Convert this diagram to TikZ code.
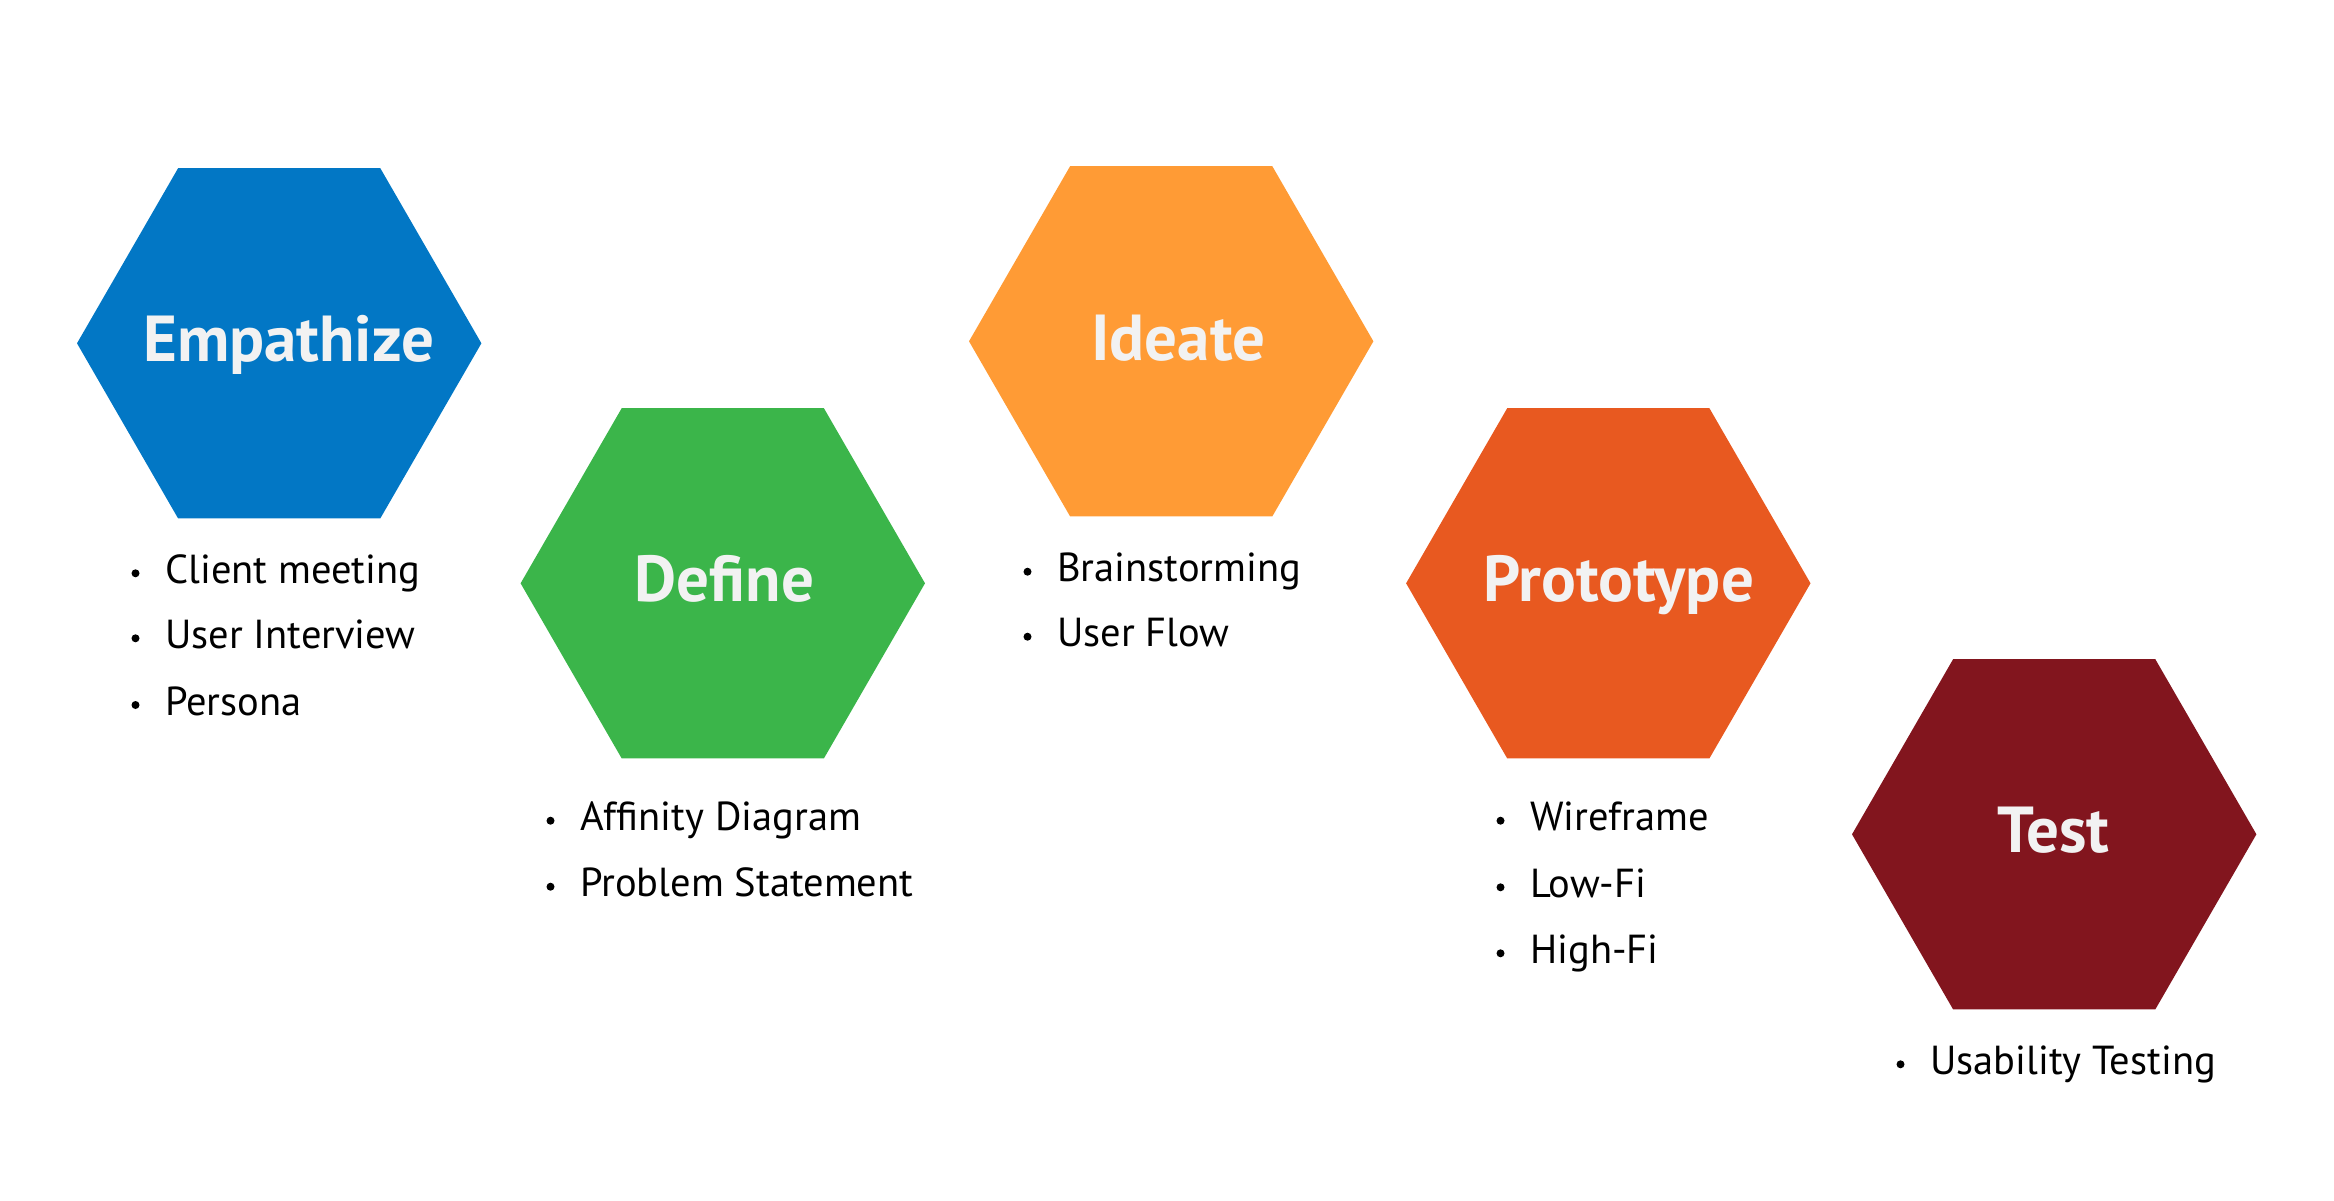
\documentclass[tikz,border=0pt]{standalone}
\usepackage{fontspec}
\setmainfont{PT Sans}
\usetikzlibrary{shapes.geometric,calc}

\definecolor{empblue}{RGB}{2,119,197}
\definecolor{defgreen}{RGB}{59,181,74}
\definecolor{ideorange}{RGB}{255,155,53}
\definecolor{prored}{RGB}{232,89,32}
\definecolor{tesmaroon}{RGB}{130,21,30}
\definecolor{titlegray}{RGB}{242,242,242}

\begin{document}
\begin{tikzpicture}[x=1pt,y=-1pt,
  hexa/.style={regular polygon, regular polygon sides=6, minimum size=404.4pt,
    inner sep=0pt, outer sep=0pt, draw=none},
  title/.style={anchor=base, inner sep=0pt, text=titlegray,
    font=\fontsize{65}{72}\selectfont\bfseries},
  item/.style={anchor=base west, inner sep=0pt, text=black,
    font=\fontsize{40.5}{48}\selectfont},
  dot/.style={fill=black}
]
\useasboundingbox (0,0) rectangle (2334,1200);

% stage hexagons
\node[hexa, fill=empblue]   (emp) at (279.2,343.3) {};
\node[hexa, fill=defgreen]  (def) at (722.8,583.3) {};
\node[hexa, fill=ideorange] (ide) at (1171.2,341.3) {};
\node[hexa, fill=prored]    (pro) at (1608.3,583.3) {};
\node[hexa, fill=tesmaroon] (tes) at (2054.2,834.3) {};

% stage titles
\node[title] (empT) at ($(emp.center)+(9.7,18.4)$) {Empathize};
\node[title] (defT) at ($(def.center)+(1.7,18.4)$) {Define};
\node[title] (ideT) at ($(ide.center)+(7.1,18.7)$) {Ideate};
\node[title] (proT) at ($(pro.center)+(10.4,18.4)$) {Prototype};
\node[title] (tesT) at ($(tes.center)+(-0.9,18.4)$) {Test};

% activity lists
\node[item] (e1) at (165,583.3) {Client meeting};
\node[item] (e2) at (165,648.3) {User Interview};
\node[item] (e3) at (165,715.0) {Persona};

\node[item] (d1) at (580,830.7) {Affinity Diagram};
\node[item] (d2) at (580,896.7) {Problem Statement};

\node[item] (i1) at (1057,581.7) {Brainstorming};
\node[item] (i2) at (1057,646.7) {User Flow};

\node[item] (p1) at (1530,830.7) {Wireframe};
\node[item] (p2) at (1530,897.3) {Low-Fi};
\node[item] (p3) at (1530,963.3) {High-Fi};

\node[item] (t1) at (1930,1074.3) {Usability Testing};

% list bullets
\foreach \n in {e1,e2,e3,d1,d2,i1,i2,p1,p2,p3,t1}
  \fill[dot] ($(\n.base west)+(-29.5,-10)$) circle (4);
\end{tikzpicture}
\end{document}
